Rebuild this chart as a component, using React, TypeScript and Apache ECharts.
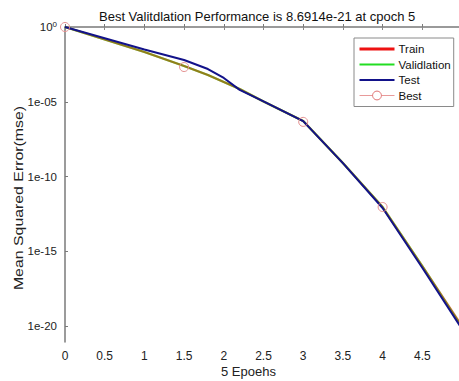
import React, { useEffect, useRef } from "react";
import * as echarts from "echarts";

const epochs = [0, 0.5, 1, 1.5, 1.8, 2, 2.2, 2.5, 3, 3.5, 4, 4.5, 5];
const trainMse = [1, 0.145, 0.0214, 2.45e-3, 6.2e-4, 2.1e-4, 7.1e-5, 1.05e-5, 5.1e-7, 7.9e-10, 9.1e-13, 1.02e-16, 1.0e-20];
const validationMse = [1, 0.145, 0.0214, 2.45e-3, 6.2e-4, 2.1e-4, 7.1e-5, 1.05e-5, 5.1e-7, 7.9e-10, 9.1e-13, 1.02e-16, 8.6914e-21];
const testMse = [1, 0.178, 0.0316, 6.2e-3, 1.55e-3, 3.9e-4, 6.2e-5, 1.05e-5, 5.1e-7, 7.9e-10, 7.8e-13, 7.9e-17, 6.3e-21];
const bestEpochs = [0, 1.5, 3, 4];
const bestMse = [1, 2.1e-3, 4.5e-7, 9.1e-13];
const xTicks = [0, 0.5, 1, 1.5, 2, 2.5, 3, 3.5, 4, 4.5];
const yTickExponents = [0, -5, -10, -15, -20];

const FONT = "'Liberation Sans', Arial, sans-serif";

const toPairs = (xs: number[], ys: number[]) => xs.map((x, i) => [x, Math.log10(ys[i])]);

export default function App() {
  const ref = useRef<HTMLDivElement>(null);
  useEffect(() => {
    if (!ref.current) return;
    const chart = echarts.init(ref.current, null, { renderer: "svg" });
    chart.setOption({
      animation: false,
      backgroundColor: "#ffffff",
      legend: {
        orient: "vertical",
        left: 354,
        top: 38,
        padding: [5, 3, 5, 4],
        itemGap: 3.5,
        itemWidth: 35,
        itemHeight: 11,
        backgroundColor: "#fff",
        borderColor: "#8a8a8a",
        borderWidth: 1,
        borderRadius: 0,
        textStyle: { fontFamily: FONT, fontSize: 11.5, color: "#111", padding: [0, 0, 0, -1] },
        data: [
          { name: "Train", lineStyle: { opacity: 1, width: 3, color: "#ee1111" }, itemStyle: { opacity: 0 } },
          { name: "Validlation", lineStyle: { opacity: 1, width: 2, color: "#22dd22" }, itemStyle: { opacity: 0 } },
          { name: "Test", lineStyle: { opacity: 1, width: 2, color: "#12128a" }, itemStyle: { opacity: 0 } },
          { name: "Best", lineStyle: { opacity: 1, width: 1, color: "#e89a9a" }, itemStyle: { color: "#fff", borderColor: "#e07070", borderWidth: 1 } },
        ],
      },
      grid: { left: 65, top: 27, width: 397, height: 315, outerBoundsMode: "none", containLabel: false },
      xAxis: [
        {
          type: "value",
          min: 0,
          max: 5,
          interval: 0.5,
          axisLine: { show: true, lineStyle: { color: "#7a7a7a", width: 1.5 } },
          axisTick: { show: true, inside: true, length: 3, lineStyle: { color: "#7a7a7a" } },
          splitLine: { show: false },
          axisLabel: {
            margin: 8,
            fontFamily: FONT,
            fontSize: 12,
            color: "#222",
            formatter: (v: number) => (xTicks.includes(v) ? String(v) : ""),
          },
          name: "5 Epoehs",
          nameLocation: "middle",
          nameGap: 23,
          nameMoveOverlap: false,
          nameTextStyle: { fontFamily: FONT, fontSize: 13, color: "#222", padding: [0, 30, 0, 0] },
        },
        {
          type: "value",
          position: "top",
          min: 0,
          max: 5,
          interval: 0.5,
          axisLine: { show: false },
          axisTick: { show: true, inside: true, length: 3, lineStyle: { color: "#8a8a8a" } },
          axisLabel: { show: false },
          splitLine: { show: false },
        },
      ],
      yAxis: {
        type: "value",
        min: -21.07,
        max: 0,
        axisLine: { show: true, lineStyle: { color: "#7a7a7a", width: 1.5 } },
        axisTick: { show: true, inside: true, length: 3, customValues: yTickExponents, lineStyle: { color: "#7a7a7a" } },
        splitLine: { show: false },
        axisLabel: {
          customValues: yTickExponents,
          margin: 8,
          fontFamily: FONT,
          fontSize: 11.5,
          color: "#222",
          formatter: (v: number) =>
            v === 0 ? "{a|10}{s|0}" : "{a|1e-" + String(-v).padStart(2, "0") + "}",
          rich: {
            a: { fontFamily: FONT, fontSize: 11.5, color: "#222", lineHeight: 14 },
            s: { fontFamily: FONT, fontSize: 8, color: "#222", verticalAlign: "top", lineHeight: 14, padding: [0, 0, 6, 0] },
          },
        },
      },
      graphic: [
        {
          type: "text",
          x: 99,
          y: 16,
          style: {
            text: "Best Valitdlation Performance is 8.6914e-21 at cpoch 5",
            fontFamily: FONT,
            fontSize: 13,
            fill: "#111",
            align: "left",
            verticalAlign: "middle",
          },
        },
        {
          type: "text",
          x: 19,
          y: 198,
          rotation: Math.PI / 2,
          scaleX: 1.22,
          style: {
            text: "Mean Squared Error(mse)",
            fontFamily: FONT,
            fontSize: 13,
            fill: "#222",
            align: "center",
            verticalAlign: "middle",
          },
        },
      ],
      series: [
        {
          name: "Validlation",
          type: "line",
          data: toPairs(epochs, validationMse),
          showSymbol: false,
          symbol: "none",
          lineStyle: { color: "#30f030", width: 2.2 },
          itemStyle: { color: "#22dd22" },
          z: 2,
        },
        {
          name: "Train",
          type: "line",
          data: toPairs(epochs, trainMse),
          showSymbol: false,
          symbol: "none",
          lineStyle: { color: "#ff0000", width: 2.2, opacity: 0.47 },
          itemStyle: { color: "#ee1111" },
          z: 3,
        },
        {
          name: "Test",
          type: "line",
          data: toPairs(epochs, testMse),
          showSymbol: false,
          symbol: "none",
          lineStyle: { color: "#12128a", width: 2 },
          itemStyle: { color: "#12128a" },
          z: 4,
        },
        {
          name: "Best",
          type: "line",
          data: toPairs(bestEpochs, bestMse),
          symbol: "circle",
          symbolSize: 9,
          showSymbol: true,
          lineStyle: { opacity: 0 },
          itemStyle: { color: "rgba(255,255,255,0)", borderColor: "#e59090", borderWidth: 1 },
          z: 5,
        },
      ],
    });
    return () => chart.dispose();
  }, []);
  return (
    <div style={{ position: "fixed", left: 0, top: 0, width: 459, height: 381, overflow: "hidden", background: "#fff" }}>
      <div ref={ref} style={{ width: 470, height: 381 }} />
    </div>
  );
}
